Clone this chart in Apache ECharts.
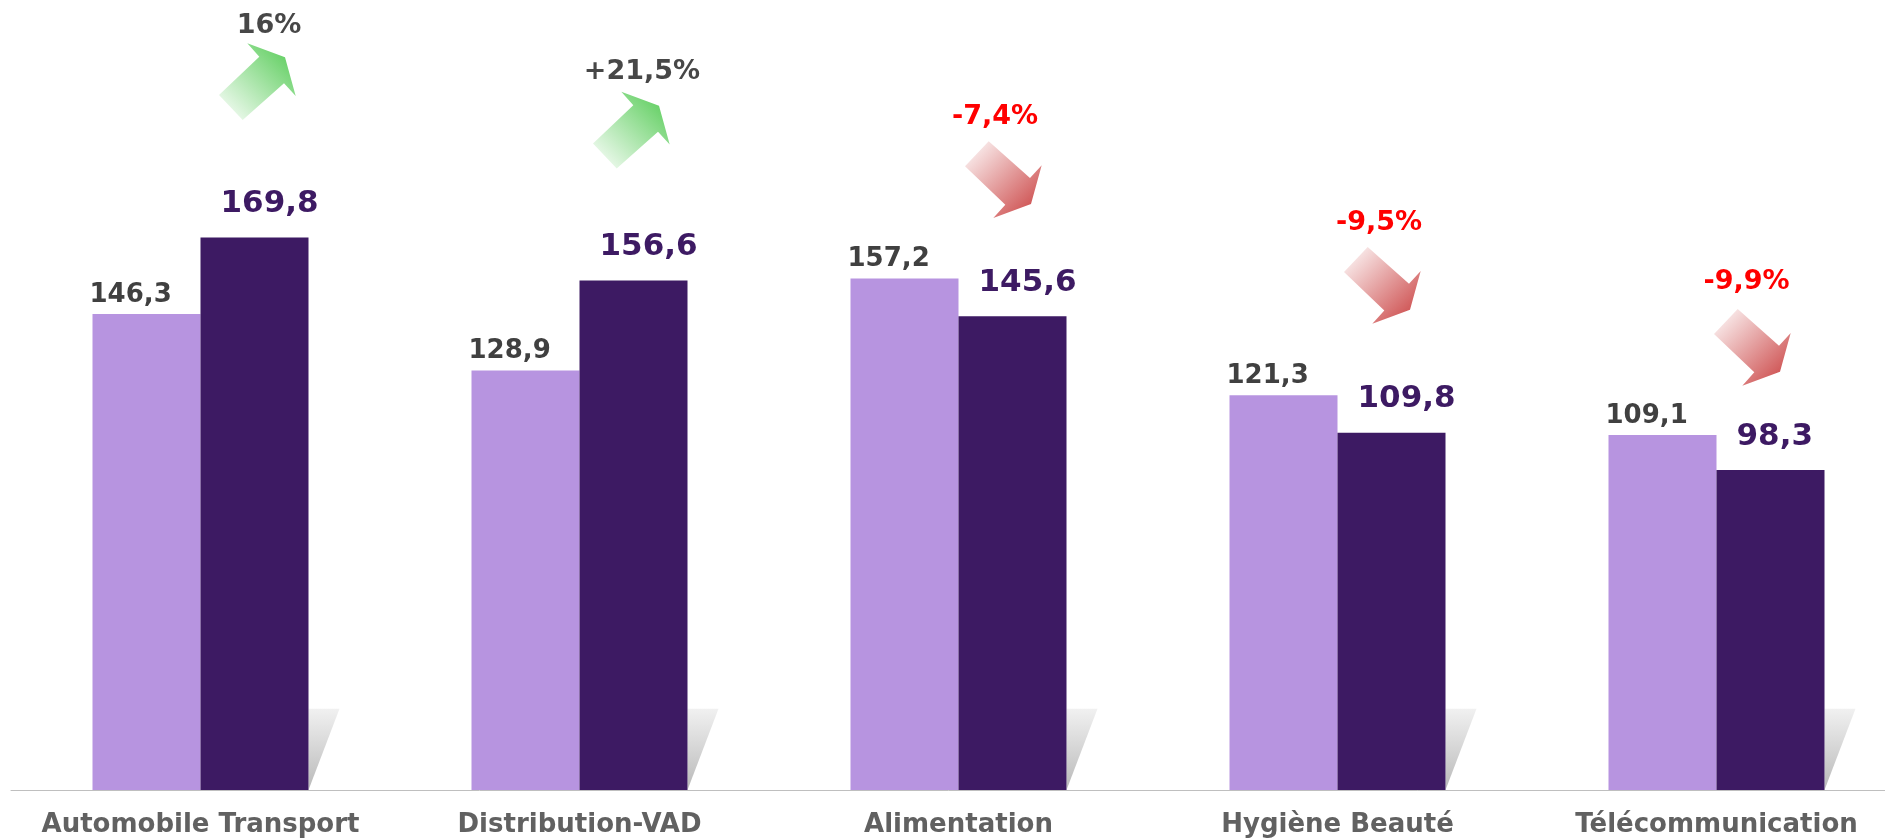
<!DOCTYPE html>
<html>
<head>
<meta charset="utf-8">
<title>Secteurs</title>
<script src="https://cdn.jsdelivr.net/npm/echarts@6/dist/echarts.min.js"></script>
<style>
    html, body { margin: 0; padding: 0; background: #fff; }
    #chart { width: 1885px; height: 839px; }
</style>
</head>
<body>
<div id="chart"></div>
<script>
// data
var categories = ['Automobile Transport', 'Distribution-VAD', 'Alimentation', 'Hygiène Beauté', 'Télécommunication'];
var previousYear = [146.3, 128.9, 157.2, 121.3, 109.1];
var currentYear = [169.8, 156.6, 145.6, 109.8, 98.3];
var changeText = ['16%', '+21,5%', '-7,4%', '-9,5%', '-9,9%'];
var changeUp = [true, true, false, false, false];

// where the arrows sit (px from category centre, value units for height)
var arrowDx = [57, 52, 45, 45, 36];
var arrowAt = [217.7, 202.8, 187.5, 155.0, 136.0];
var textDx = [11.5, 10.5, -8.5, -3.5, -6];
var textDy = [-56, -58, -63, -63, -65];

var BAR_W = 108;
var FONT = '"DejaVu Sans", Verdana, sans-serif';

function fmt(v) {
    return v.toFixed(1).replace('.', ',');
}

// arrow outline for an up-right arrow, around its centre
var upArrow = [[-38.5, 13.5], [1.8, -24.8], [-10.2, -38.2], [27.5, -24.2], [38.2, 14.5], [26.5, 1.8], [-14.8, 38.5]];

var chart = echarts.init(document.getElementById('chart'));

var option = {
    animation: false,
    grid: {
        left: 11,
        top: 9,
        width: 1895,
        height: 781,
        outerBoundsMode: 'none',
        containLabel: false
    },
    xAxis: {
        type: 'category',
        data: categories,
        axisTick: { show: false },
        axisLine: { lineStyle: { color: '#bfbfbf', width: 1 } },
        axisLabel: {
            interval: 0,
            margin: 22,
            color: '#616161',
            fontFamily: FONT,
            fontWeight: 'bold',
            fontSize: 26
        }
    },
    yAxis: {
        type: 'value',
        min: 0,
        max: 240,
        show: false
    },
    series: [
        {
            type: 'bar',
            data: previousYear,
            barWidth: BAR_W,
            barGap: '0%',
            itemStyle: { color: '#b794e0' },
            label: {
                show: true,
                position: [-3, -6],
                align: 'left',
                verticalAlign: 'bottom',
                formatter: function (p) { return fmt(p.value); },
                color: '#404040',
                fontFamily: FONT,
                fontWeight: 'bold',
                fontSize: 26
            }
        },
        {
            type: 'bar',
            data: currentYear,
            barWidth: BAR_W,
            itemStyle: { color: '#3d1a63' },
            label: {
                show: true,
                position: [20, -18],
                align: 'left',
                verticalAlign: 'bottom',
                formatter: function (p) { return fmt(p.value); },
                color: '#3d1a63',
                fontFamily: FONT,
                fontWeight: 'bold',
                fontSize: 31
            }
        },
        {
            // grey shadow wedge next to each pair
            type: 'custom',
            silent: true,
            data: categories.map(function (c, i) { return [i, 25]; }),
            renderItem: function (params, api) {
                var base = api.coord([api.value(0), 0]);
                var top = api.coord([api.value(0), api.value(1)]);
                var x0 = base[0] + BAR_W;
                return {
                    type: 'polygon',
                    shape: { points: [[x0, top[1]], [x0 + 31, top[1]], [x0, base[1]]] },
                    style: {
                        fill: new echarts.graphic.LinearGradient(0, 0, 0, 1, [
                            { offset: 0, color: '#f1f1f1' },
                            { offset: 1, color: '#b9b9b9' }
                        ])
                    }
                };
            }
        },
        {
            // change arrows with their percentage
            type: 'custom',
            silent: true,
            data: categories.map(function (c, i) { return [i, arrowAt[i]]; }),
            renderItem: function (params, api) {
                var i = params.dataIndex;
                var p = api.coord([api.value(0), api.value(1)]);
                var cx = p[0] + arrowDx[i];
                var cy = p[1];
                var up = changeUp[i];
                var pts = upArrow.map(function (q) {
                    return [cx + q[0], cy + (up ? q[1] : -q[1])];
                });
                var fill = up
                    ? new echarts.graphic.LinearGradient(0, 1, 1, 0, [
                        { offset: 0, color: '#ffffff' },
                        { offset: 1, color: '#4fc94f' }
                    ])
                    : new echarts.graphic.LinearGradient(0, 0, 1, 1, [
                        { offset: 0, color: '#ffffff' },
                        { offset: 1, color: '#c83b3b' }
                    ]);
                return {
                    type: 'group',
                    children: [
                        { type: 'polygon', shape: { points: pts }, style: { fill: fill } },
                        {
                            type: 'text',
                            x: cx + textDx[i],
                            y: cy + textDy[i],
                            style: {
                                text: changeText[i],
                                align: 'center',
                                verticalAlign: 'middle',
                                fill: up ? '#474747' : '#ff0000',
                                font: 'bold 27px ' + FONT
                            }
                        }
                    ]
                };
            }
        }
    ]
};

chart.setOption(option);
</script>
</body>
</html>
